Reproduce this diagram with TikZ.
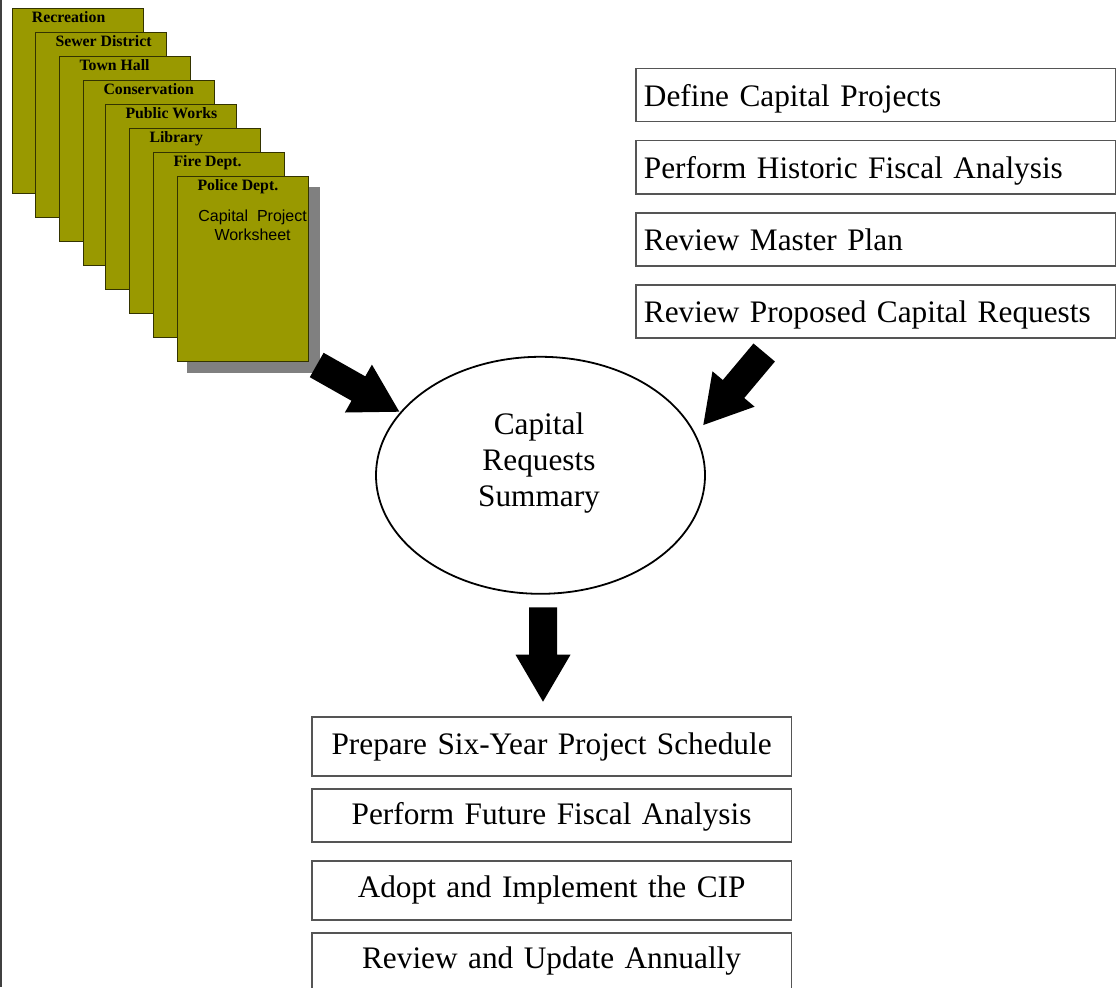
\documentclass[tikz,border=0pt]{standalone}
\usepackage{fontspec}
\setmainfont{Liberation Serif}
\newfontfamily\arialfont{Liberation Sans}
\usetikzlibrary{calc,shapes.geometric}
\definecolor{pagefill}{RGB}{153,153,0}
\definecolor{pageline}{RGB}{51,51,0}
\definecolor{shadowgray}{RGB}{128,128,128}
\definecolor{boxline}{RGB}{85,85,85}
\newcommand\bigtext{\fontsize{31.3}{36}\selectfont}
\newcommand\blockarrow[2]{%
  \coordinate (#1-h) at ($(#2)!47pt!(#1)$);
  \fill[black] ($(#1)!14pt!90:(#2)$) -- ($(#1-h)!14pt!90:(#2)$) -- ($(#1-h)!27.5pt!90:(#2)$) -- (#2)
     -- ($(#1-h)!27.5pt!-90:(#2)$) -- ($(#1-h)!14pt!-90:(#2)$) -- ($(#1)!14pt!-90:(#2)$) -- cycle;}
\tikzset{
  page/.style={draw=pageline, fill=pagefill, line width=1pt, minimum width=131pt, minimum height=185pt, anchor=north west, inner sep=0pt},
  pagelabel/.style={anchor=base west, inner sep=0pt, font=\fontsize{15.8}{18}\selectfont\bfseries},
  rbox/.style={draw=boxline, line width=1.2pt, anchor=north west, minimum width=479.4pt, minimum height=53pt, text width=463.4pt, inner xsep=8pt, inner ysep=0pt, align=left, text height=24pt, text depth=2pt, font=\bigtext},
  bbox/.style={draw=boxline, line width=1.2pt, anchor=north west, minimum width=479.4pt, text width=463.4pt, inner xsep=8pt, inner ysep=0pt, align=center, font=\bigtext},
}
\begin{document}
\begin{tikzpicture}[x=1pt,y=-1pt]
\useasboundingbox (0,0) rectangle (1118,987);
\clip (0,0) rectangle (1118,987);
% left border
\draw[line width=1.5pt, black!75] (1,0) -- (1,987);
% stacked worksheets
\node[page] (p1) at (11.7,8.3) {};
\node[pagelabel] (l1) at (31.7,22.7) {Recreation};
\node[page] (p2) at (35.3,32.3) {};
\node[pagelabel] (l2) at (55.3,46.7) {Sewer District};
\node[page] (p3) at (59.3,56.3) {};
\node[pagelabel] (l3) at (79.3,70.7) {Town Hall};
\node[page] (p4) at (83.3,80.3) {};
\node[pagelabel] (l4) at (103.3,94.7) {Conservation};
\node[page] (p5) at (105.3,104.3) {};
\node[pagelabel] (l5) at (125.3,118.7) {Public Works};
\node[page] (p6) at (129.3,128.3) {};
\node[pagelabel] (l6) at (149.3,142.7) {Library};
\node[page] (p7) at (153.3,152.3) {};
\node[pagelabel] (l7) at (173.3,166.7) {Fire Dept.};
\fill[shadowgray] (187.3,186.7) rectangle (320,372.7);
\node[page] (p8) at (177.3,176.3) {};
\node[pagelabel] (l8) at (197.3,190.7) {Police Dept.};
\node[align=center, inner sep=0pt, font=\arialfont\fontsize{16}{19}\selectfont] (ws) at (252.6,225.4) {Capital~~Project\\Worksheet};
% right boxes
\node[rbox] (r1) at (635.3,68.3) {Define Capital Projects};
\node[rbox] (r2) at (635.3,140.3) {Perform Historic Fiscal Analysis};
\node[rbox] (r3) at (635.3,212.3) {Review Master Plan};
\node[rbox] (r4) at (635.3,284.3) {Review Proposed Capital Requests};
% ellipse
\node[ellipse, draw, line width=1.8pt, minimum width=329pt, minimum height=237pt, inner sep=0pt] (sum) at (540.5,475.3) {};
\node[align=center, inner sep=0pt, font=\bigtext] (sumtext) at (539,463.4) {Capital\\Requests\\Summary};
% bottom boxes
\node[bbox, minimum height=59pt, text height=21pt, text depth=4pt] (b1) at (311.3,716.3) {Prepare Six-Year Project Schedule};
\node[bbox, minimum height=53pt, text height=23pt, text depth=4pt] (b2) at (311.3,788.3) {Perform Future Fiscal Analysis};
\node[bbox, minimum height=59pt, text height=19pt, text depth=4pt] (b3) at (311.3,860.3) {Adopt and Implement the CIP};
\node[bbox, minimum height=59pt, text height=17pt, text depth=4pt] (b4) at (311.3,932.3) {Review and Update Annually};
% block arrows
\coordinate (aLt) at (316.7,365);
\coordinate (aLh) at (399.3,411.7);
\coordinate (aRt) at (764.2,352.5);
\coordinate (aRh) at (703.3,425);
\coordinate (aDt) at (543,607.3);
\coordinate (aDh) at (543,701.7);
\blockarrow{aLt}{aLh}
\blockarrow{aRt}{aRh}
\blockarrow{aDt}{aDh}
\end{tikzpicture}
\end{document}
